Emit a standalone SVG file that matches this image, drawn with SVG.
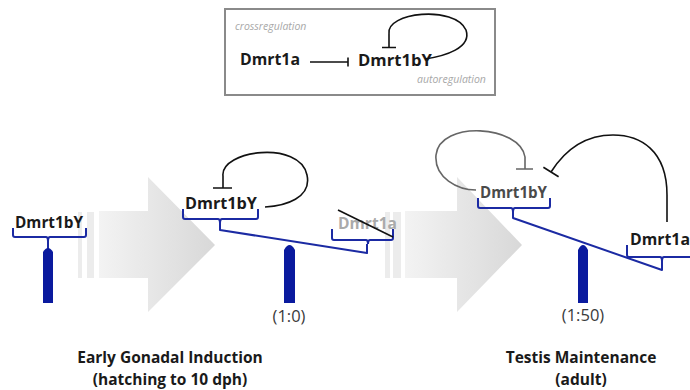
<svg xmlns="http://www.w3.org/2000/svg" width="690" height="390" viewBox="0 0 690 390">
<defs>
<linearGradient id="ag" x1="0" y1="0" x2="1" y2="0">
<stop offset="0" stop-color="#f3f3f3"/>
<stop offset="1" stop-color="#d8d8d8"/>
</linearGradient>
<style>
.lbl{font-family:"Open Sans","Liberation Sans",sans-serif;font-weight:bold;fill:#1a1a1a}
.note{font-family:"Open Sans","Liberation Sans",sans-serif;font-style:italic;font-size:10.5px;fill:#a8a8a8}
.ratio{font-family:"Open Sans","Liberation Sans",sans-serif;font-size:16.5px;fill:#3a3a3a;text-anchor:middle}
.cap{font-family:"Open Sans","Liberation Sans",sans-serif;font-weight:bold;font-size:15.5px;fill:#1a1a1a;text-anchor:middle}
.brace{fill:none;stroke:#1b2aa3;stroke-width:2;stroke-linejoin:round}
.pillar{fill:#0a1a9e}
.reg{fill:none;stroke:#111;stroke-width:1.6}
.stripe{fill:#ececec}
</style>
</defs>
<rect width="690" height="390" fill="#fff"/>
<g id="arrows">
<rect class="stripe" x="78" y="212" width="4" height="66"/>
<rect class="stripe" x="87" y="212" width="7" height="66"/>
<path d="M99 211 L148 211 L148 177 L215 245 L148 312 L148 278 L99 278 Z" fill="url(#ag)"/>
<rect class="stripe" x="385" y="212" width="5" height="66"/>
<rect class="stripe" x="393" y="212" width="8" height="66"/>
<path d="M405 211 L457 211 L457 177 L522 245 L457 312 L457 278 L405 278 Z" fill="url(#ag)"/>
</g>
<g id="legend">
<rect x="225" y="9" width="270" height="86" fill="#fff" stroke="#8a8a8a" stroke-width="2"/>
<text class="note" x="235" y="30">crossregulation</text>
<text class="note" x="417" y="83">autoregulation</text>
<text class="lbl" x="240" y="65" font-size="16" textLength="60" lengthAdjust="spacingAndGlyphs">Dmrt1a</text>
<text class="lbl" x="358" y="66" font-size="16.5" textLength="74" lengthAdjust="spacingAndGlyphs">Dmrt1bY</text>
</g>
<g id="stage0">
<text class="lbl" x="15" y="228" font-size="15.5" textLength="68" lengthAdjust="spacingAndGlyphs">Dmrt1bY</text>
</g>
<g id="stage1">
<text class="lbl" x="185" y="209" font-size="16.5" textLength="72" lengthAdjust="spacingAndGlyphs">Dmrt1bY</text>
<text class="lbl" x="338" y="229" font-size="16" textLength="59" lengthAdjust="spacingAndGlyphs" style="fill:#aaaaaa">Dmrt1a</text>
<text class="ratio" x="289" y="322">(1:0)</text>
</g>
<g id="stage2">
<text class="lbl" x="480" y="198" font-size="16" textLength="67" lengthAdjust="spacingAndGlyphs" style="fill:#4a4a4a">Dmrt1bY</text>
<text class="lbl" x="630" y="245" font-size="16" textLength="60" lengthAdjust="spacingAndGlyphs">Dmrt1a</text>
<text class="ratio" x="583" y="321">(1:50)</text>
</g>
<g id="captions">
<text class="cap" x="170" y="363">Early Gonadal Induction</text>
<text class="cap" x="170" y="385">(hatching to 10 dph)</text>
<text class="cap" x="581" y="363">Testis Maintenance</text>
<text class="cap" x="581" y="385">(adult)</text>
</g>
<g id="connectors">
<path class="reg" d="M310 62 L348 62 M348 57.5 L348 66.5"/>
<path class="reg" d="M389 47 L389 34 C385 12 455 5 466 30 C472 48 445 56 425 59 M382 47.5 L396 47.5" stroke-width="1.8"/>
<path class="brace" d="M13 228 L13 235 Q13 237 15 237 L46 237 Q48 237 48 241 L48 252 M48 241 Q48 237 50 237 L84 237 Q86 237 86 235 L86 228"/>
<path class="pillar" d="M43 303 L43 252 Q48 244 53 252 L53 303 Z"/>
<path class="reg" d="M223 188 L223 176 C220 150 300 140 307 175 C312 198 285 206 265 207 M213 188 L232 188"/>
<path class="brace" d="M183 209 L183 217 Q183 219 185 219 L218 219 Q220 219 220 223 L220 230 L367 253 L367 244 M220 223 Q220 219 222 219 L256 219 Q258 219 258 217 L258 209"/>
<path class="brace" d="M332 229 L332 238 Q332 240 334 240 L366 240 Q368 240 368 244 M368 244 Q368 240 370 240 L391 240 Q393 240 393 238 L393 229"/>
<path class="pillar" d="M284 303 L284 250 Q289.5 240 295 250 L295 303 Z"/>
<path d="M338 210 L393 237" stroke="#111" stroke-width="1.6"/>
<path class="reg" d="M525 169 L525 157 C520 125 440 120 436 155 C434 178 458 190 476 190 M516 169 L533 169" style="stroke:#666"/>
<path class="reg" d="M667 222 L667 195 C667 150 640 135 613 135 C585 135 565 150 551 172 M543.4 167.2 L558.6 176.8" stroke-width="3"/>
<path class="brace" d="M478 198 L478 206 Q478 208 480 208 L511 208 Q513 208 513 212 L513 218 L662 270 L662 261 M513 212 Q513 208 515 208 L548 208 Q550 208 550 206 L550 198"/>
<path class="brace" d="M627 245 L627 255 Q627 257 629 257 L660 257 Q662 257 662 261 M662 261 Q662 257 664 257 L692 257"/>
<path class="pillar" d="M578 303 L578 250 Q583 240 588 250 L588 303 Z"/>
</g>
</svg>
